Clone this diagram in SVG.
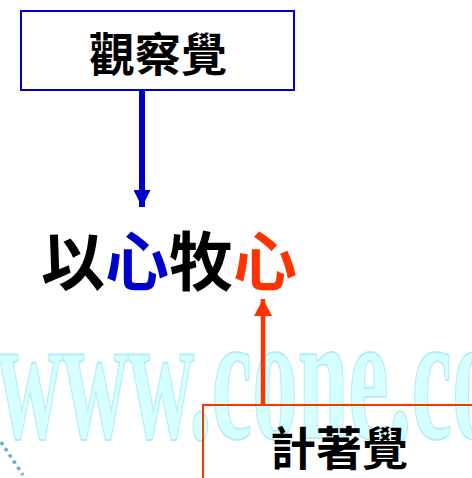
<svg xmlns="http://www.w3.org/2000/svg" width="472" height="478" viewBox="0 0 472 478">
<style>
.cjk{font-family:"Noto Sans CJK TC","Noto Sans CJK SC",sans-serif;font-weight:bold;text-anchor:middle}
.wm{font-family:"Liberation Serif",serif;font-weight:bold;font-size:182px;fill:#d6ffff;stroke:#b4eef2;stroke-width:2}
</style>
<defs>
<marker id="ab" markerUnits="userSpaceOnUse" markerWidth="18" markerHeight="17" refX="18" refY="9" orient="auto" viewBox="0 0 18 18"><path d="M0,0 L18,9 L0,18 Z" fill="#0000cc"/></marker>
<marker id="ar" markerUnits="userSpaceOnUse" markerWidth="17" markerHeight="18" refX="17" refY="9" orient="auto" viewBox="0 0 17 18"><path d="M0,0 L17,9 L0,18 Z" fill="#ff3300"/></marker>
</defs>
<rect width="472" height="478" fill="#ffffff"/>
<g id="watermark">
<text class="wm" transform="translate(-3,438) scale(0.5,1)">www.cone.co</text>
<path d="M1,442 L23,475" stroke="#5fb8c0" stroke-width="3.5" stroke-dasharray="3.5 4" fill="none"/>
</g>
<g id="connectors">
<line x1="142" y1="90" x2="142" y2="207" stroke="#0000cc" stroke-width="6" marker-end="url(#ab)"/>
<line x1="263" y1="405" x2="263" y2="299" stroke="#ff3300" stroke-width="4.5" marker-end="url(#ar)"/>
</g>
<g id="node-top">
<rect x="21" y="11" width="273" height="79" fill="#ffffff" stroke="#0000cc" stroke-width="2"/>
<text class="cjk" x="158" y="71" font-size="46">觀察覺</text>
</g>
<g id="node-center">
<text class="cjk" x="169" y="285" font-size="64"><tspan fill="#000000">以</tspan><tspan fill="#0000cc">心</tspan><tspan fill="#000000">牧</tspan><tspan fill="#ff3300">心</tspan></text>
</g>
<g id="node-bottom">
<rect x="203" y="405" width="280" height="90" fill="none" stroke="#ff3300" stroke-width="2"/>
<text class="cjk" x="339" y="465" font-size="46">計著覺</text>
</g>
</svg>
